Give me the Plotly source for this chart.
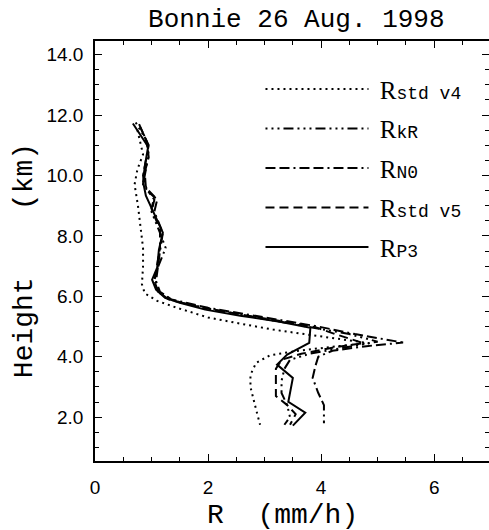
import plotly.graph_objects as go

# ---- data (R in mm/h, height in km) ----
v4_R = [0.75, 0.85, 0.75, 0.70, 0.76, 0.80, 0.85, 0.85, 0.83, 0.88, 1.10, 1.45, 2.0, 2.5, 3.15, 3.7, 4.3, 4.85, 4.3, 3.6, 3.1, 2.85, 2.75, 2.75, 2.83, 2.92]
v4_H = [11.5, 10.7, 10.2, 9.7, 9.0, 8.3, 7.6, 7.0, 6.4, 6.1, 5.85, 5.62, 5.3, 5.12, 4.9, 4.75, 4.6, 4.45, 4.35, 4.2, 4.05, 3.8, 3.4, 3.0, 2.4, 1.75]

kR_R = [0.72, 0.90, 0.95, 0.90, 0.85, 1.05, 1.00, 1.15, 1.25, 1.10, 1.05, 1.15, 1.40, 2.0, 2.6, 3.3, 3.9, 4.5, 5.0, 4.4, 3.8, 3.45, 3.35, 3.30, 3.30, 3.40, 3.45, 3.35]
kR_H = [11.75, 11.2, 10.7, 10.2, 9.7, 9.2, 8.8, 8.1, 7.6, 6.9, 6.5, 6.1, 5.85, 5.6, 5.38, 5.15, 4.95, 4.75, 4.5, 4.3, 4.1, 3.9, 3.6, 3.2, 2.8, 2.4, 2.0, 1.75]

N0_R = [0.80, 0.95, 0.90, 0.85, 0.92, 1.10, 1.05, 1.20, 1.15, 1.12, 1.08, 1.15, 1.35, 2.0, 2.7, 3.4, 3.95, 4.6, 5.45, 4.8, 4.2, 3.95, 3.90, 3.85, 3.95, 4.05, 4.05]
N0_H = [11.6, 11.0, 10.5, 10.0, 9.5, 9.2, 8.8, 8.1, 7.5, 7.0, 6.5, 6.15, 5.9, 5.62, 5.4, 5.18, 5.0, 4.75, 4.47, 4.35, 4.2, 4.0, 3.7, 3.3, 2.8, 2.4, 1.8]

v5_R = [0.78, 0.92, 0.95, 0.88, 0.90, 1.05, 1.00, 1.15, 1.15, 1.10, 1.05, 1.12, 1.30, 1.9, 2.6, 3.3, 3.9, 4.25, 4.75, 4.2, 3.65, 3.30, 3.20, 3.20, 3.20, 3.40, 3.55, 3.45]
v5_H = [11.7, 11.1, 10.6, 10.1, 9.6, 9.3, 8.9, 8.2, 7.6, 7.0, 6.5, 6.15, 5.9, 5.62, 5.4, 5.18, 4.98, 4.75, 4.45, 4.3, 4.1, 3.9, 3.6, 3.2, 2.7, 2.4, 2.1, 1.75]

P3_R = [0.67, 0.94, 0.88, 0.85, 0.90, 1.01, 1.20, 1.13, 1.10, 1.01, 1.08, 1.24, 1.50, 1.95, 2.57, 3.27, 3.81, 3.79, 3.40, 3.22, 3.50, 3.42, 3.72, 3.50]
P3_H = [11.72, 10.95, 10.29, 9.79, 9.33, 8.87, 8.11, 7.54, 6.95, 6.55, 6.22, 5.95, 5.79, 5.56, 5.36, 5.16, 4.96, 4.46, 4.07, 3.74, 3.30, 2.51, 2.15, 1.72]

x_ticks = [0, 2, 4, 6]
y_ticks = [2, 4, 6, 8, 10, 12, 14]
y_ticklabels = ["2.0", "4.0", "6.0", "8.0", "10.0", "12.0", "14.0"]

mono = "Liberation Mono"
def lab(s):
    return ("&nbsp;R<span style='font-family:Liberation Mono;font-size:18px'>%s</span>" % s)

series = [
    (lab("std v4"), v4_R, v4_H, "2px,4px"),
    (lab("kR"), kR_R, kR_H, "2px,4px,2px,4px,2px,4px,10px,4px"),
    (lab("N0"), N0_R, N0_H, "10px,4px,10px,4px,2px,4px"),
    (lab("std v5"), v5_R, v5_H, "9px,5px"),
    (lab("P3"), P3_R, P3_H, "solid"),
]

fig = go.Figure()
for i, (name, xs, ys, dash) in enumerate(series):
    fig.add_trace(go.Scatter(
        x=xs, y=ys, mode="lines", name=name, legendgroup=str(i),
        line=dict(color="black", width=2, dash=dash),
    ))

axis_common = dict(
    showline=True, linecolor="black", linewidth=1.5, mirror="ticks",
    ticks="inside", ticklen=7, tickwidth=1.2, tickcolor="black",
    showgrid=False, zeroline=False, automargin=False,
    tickfont=dict(family="Liberation Sans", size=19, color="black"),
    minor=dict(ticks="inside", ticklen=4, tickwidth=1, tickcolor="black", dtick=0.5),
)

fig.update_layout(
    width=489, height=530,
    margin=dict(l=95, r=0, t=41, b=69),
    paper_bgcolor="white", plot_bgcolor="white",
    title=dict(text="Bonnie 26 Aug. 1998", x=0.606, xanchor="center", y=0.966, yanchor="middle",
               font=dict(family=mono, size=26, color="black")),
    xaxis=dict(range=[0, 6.97], tickvals=x_ticks, ticklabelstandoff=8, **axis_common),
    yaxis=dict(range=[0.55, 14.45], tickvals=y_ticks, ticktext=y_ticklabels, ticklabelstandoff=6,
               **axis_common),
    legend=dict(x=0.42, y=0.94, xanchor="left", yanchor="top", itemwidth=103,
                font=dict(family="Liberation Serif", size=25, color="black"),
                bgcolor="rgba(0,0,0,0)", tracegroupgap=4),
    showlegend=True,
    annotations=[
        dict(text="R  (mm/h)", xref="paper", yref="paper", x=0.475, y=-0.129,
             xanchor="center", yanchor="middle", showarrow=False,
             font=dict(family=mono, size=28, color="black")),
        dict(text="Height    (km)", xref="paper", yref="paper", x=-0.180, y=0.476,
             xanchor="center", yanchor="middle", showarrow=False, textangle=-90,
             font=dict(family=mono, size=28, color="black")),
    ],
)

fig.write_html("out.html", config={"displayModeBar": False},
               post_script="document.body.style.margin='0';document.body.style.overflow='hidden';")
